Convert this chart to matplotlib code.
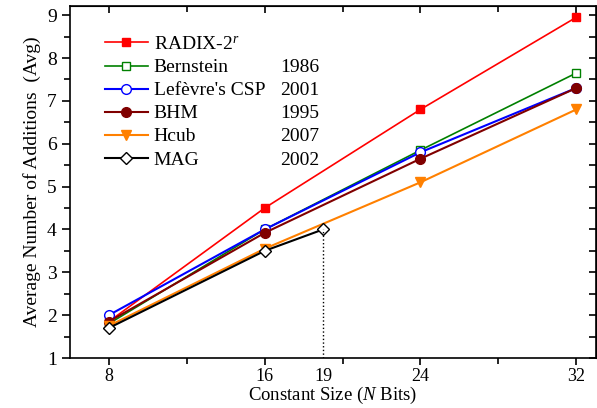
import matplotlib
matplotlib.use("Agg")
import matplotlib.pyplot as plt
from matplotlib.ticker import MultipleLocator, FixedLocator

plt.rcParams['font.family'] = ['Liberation Serif', 'DejaVu Serif']
plt.rcParams['mathtext.fontset'] = 'custom'
plt.rcParams['mathtext.rm'] = 'Liberation Serif'
plt.rcParams['mathtext.it'] = 'Liberation Serif:italic'

bits = [8, 16, 24, 32]
radix = [1.85, 4.5, 6.8, 8.95]
bernstein = [1.8, 4.0, 5.85, 7.65]
lefevre = [2.0, 4.0, 5.8, 7.3]
bhm = [1.85, 3.92, 5.65, 7.3]
hcub = [1.75, 3.55, 5.1, 6.8]
mag_bits = [8, 16, 19]
mag = [1.7, 3.5, 4.0]

labels = ['RADIX-2$^{r}$', 'Bernstein', "Lef\u00e8vre's CSP", 'BHM', 'Hcub', 'MAG']
years = ['', '1986', '2001', '1995', '2007', '2002']

fig = plt.figure(figsize=(5.97, 4.08), dpi=100)
ax = fig.add_axes([0.117, 0.1225, 0.881, 0.8635])

ax.plot(bits, radix, color='red', marker='s', ms=6, lw=1.2, label=labels[0])
ax.plot(bits, bernstein, color='green', marker='s', ms=6, mfc='white', lw=1.2, label=labels[1])
ax.plot(bits, lefevre, color='blue', marker='o', ms=7, mfc='white', lw=1.5, label=labels[2])
ax.plot(bits, bhm, color='#800000', marker='o', ms=7, lw=1.5, label=labels[3])
ax.plot(bits, hcub, color='#ff8000', marker='v', ms=7, lw=1.5, label=labels[4])
ax.plot(mag_bits, mag, color='black', marker='D', ms=6, mfc='white', lw=1.5, label=labels[5])

# dotted guide at 19 bits
ax.plot([19, 19], [1, mag[-1]], color='black', ls=':', lw=1)

ax.set_xlim(6, 33)
ax.set_ylim(1, 9.22)
ax.set_xticks([8, 16, 19, 24, 32])
ax.xaxis.set_minor_locator(FixedLocator([12, 20, 28]))
ax.xaxis.get_major_ticks()[2].tick1line.set_visible(False)
ax.yaxis.set_major_locator(MultipleLocator(1))
ax.yaxis.set_minor_locator(MultipleLocator(0.5))
ax.tick_params(which='both', direction='out', labelsize=14, width=1.2)
ax.tick_params(which='major', length=6)
ax.tick_params(which='minor', length=4)
ax.tick_params(axis='x', which='both', top=False, pad=2, labelsize=13)
ax.tick_params(axis='x', which='major', length=5)
for s in ax.spines.values():
    s.set_linewidth(1.2)

# inward ticks on top and right
top = ax.secondary_xaxis('top')
top.set_xticks([8, 16, 24, 32])
top.xaxis.set_minor_locator(FixedLocator([12, 20, 28]))
top.tick_params(which='both', direction='in', labeltop=False, width=1.2)
top.tick_params(which='major', length=5)
top.tick_params(which='minor', length=4)
right = ax.secondary_yaxis('right')
right.yaxis.set_major_locator(MultipleLocator(1))
right.yaxis.set_minor_locator(MultipleLocator(0.5))
right.tick_params(which='both', direction='in', labelright=False, width=1.2, length=5)

ax.set_xlabel('Constant Size ($\\mathit{N}$ Bits)', fontsize=13.5, labelpad=0)
ax.set_ylabel('Average Number of Additions  (Avg)', fontsize=14)

leg = ax.legend(loc='upper left', bbox_to_anchor=(0.067, 0.915), frameon=False,
                fontsize=14, handlelength=2.2, handletextpad=0.3, labelspacing=0.28,
                borderaxespad=0, borderpad=0)
fig.canvas.draw()
texts = leg.get_texts()
inv = ax.transAxes.inverted()
for t, yr in zip(texts, years):
    if not yr:
        continue
    bb = t.get_window_extent()
    yc = inv.transform(((bb.x0 + bb.x1) / 2, (bb.y0 + bb.y1) / 2))[1]
    ax.text(0.475, yc, yr, transform=ax.transAxes, fontsize=14, ha='right', va='center')

fig.savefig('out.png', dpi=100)
